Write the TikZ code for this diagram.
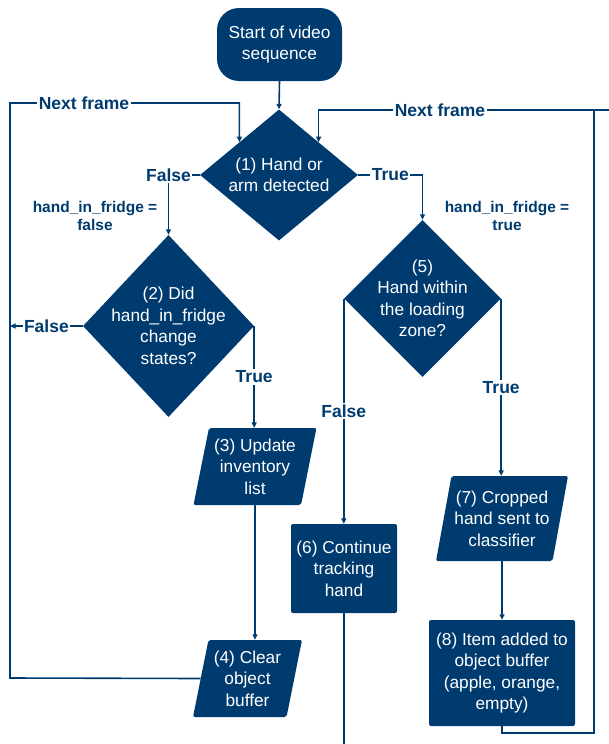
\documentclass[tikz,border=0pt]{standalone}
\usepackage{fontspec}
\setmainfont{Liberation Sans}
\usetikzlibrary{shapes.geometric,arrows.meta}
\definecolor{navy}{RGB}{0,59,112}
\newcommand{\boxfont}{\fontsize{17.3}{21.5}\selectfont}

\begin{document}
\begin{tikzpicture}[x=1pt, y=-1pt,
    >={Triangle[length=5.5pt,width=5pt]},
    flow/.style={navy, line width=1.6pt},
    termbox/.style={fill=navy, text=white, rounded corners=22pt, align=center, inner sep=1pt, font=\boxfont},
    dia/.style={diamond, fill=navy, inner sep=0pt},
    diatext/.style={text=white, align=center, inner sep=0pt, font=\boxfont},
    iobox/.style={trapezium, trapezium left angle=75, trapezium right angle=105, trapezium stretches body,
        fill=navy, text=white, rounded corners=2pt, align=center, inner sep=1pt, font=\boxfont},
    procbox/.style={rectangle, fill=navy, text=white, rounded corners=2pt, align=center, inner sep=0.5pt, font=\boxfont},
    lbl/.style={fill=white, text=navy, inner sep=1.5pt, font=\bfseries\fontsize{17.5}{20}\selectfont},
    cond/.style={text=navy, align=center, inner sep=0pt, font=\bfseries\fontsize{15.5}{18}\selectfont}]
    \useasboundingbox (0,0) rectangle (609,744);

    % start and first test
    \node[termbox, minimum width=125pt, minimum height=73pt] (start) at (279.5,44.5) {Start of video\\sequence};
    \node[dia, minimum width=158pt, minimum height=131pt] (d1) at (279,175) {};
    \node[diatext] (t1) at (d1) {(1) Hand or\\arm detected};

    % left branch: hand not detected
    \node[dia, minimum width=171pt, minimum height=182pt] (d2) at (168.5,326) {};
    \node[diatext] (t2) at (d2) {(2) Did\\hand\_in\_fridge\\change\\states?};
    \node[iobox, minimum width=123pt, minimum height=77pt] (n3) at (255,466.5) {(3) Update\\inventory\\list};
    \node[iobox, minimum width=109pt, minimum height=77pt] (n4) at (247.5,678.5) {(4) Clear\\object\\buffer};

    % right branch: hand detected
    \node[dia, minimum width=157pt, minimum height=157pt] (d5) at (422.5,298.5) {};
    \node[diatext] (t5) at (d5) {(5)\\Hand within\\the loading\\zone?};
    \node[procbox, minimum width=106pt, minimum height=89pt] (n6) at (344,568.5) {(6) Continue\\tracking\\hand};
    \node[iobox, minimum width=132pt, minimum height=85pt] (n7) at (502,518.5) {(7) Cropped\\hand sent to\\classifier};
    \node[procbox, minimum width=146pt, minimum height=106pt] (n8) at (502,673) {(8) Item added to\\object buffer\\(apple, orange,\\empty)};

    % notes
    \node[cond] (c1) at (95,216) {hand\_in\_fridge =\\false};
    \node[cond] (c2) at (507,216) {hand\_in\_fridge =\\true};

    % loop corners
    \coordinate (ltop) at (10,103);
    \coordinate (lbot) at (10,678);
    \coordinate (rtop) at (594,110);
    \coordinate (rbot) at (594,733);
    \coordinate (rout) at (609,110);
    \coordinate (bout) at (0,744);

    % connectors
    \draw[flow, ->] (start.south) -- (d1.north);
    \draw[flow, ->] (d1.west) -| node[lbl, pos=0.5] (f1) {False} (d2.north);
    \draw[flow, ->] (d1.east) -| node[lbl, pos=0.25] (tr1) {True} (d5.north);
    \draw[flow, ->] (d2.west) -- node[lbl] (f2) {False} (d2.west -| ltop);
    \draw[flow, ->] (d2.east) -- node[lbl] (tr2) {True} (d2.east |- n3.north);
    \draw[flow, ->] (n3.south) -- (n3.south |- n4.north);
    \draw[flow, ->] (n4.west) -- (lbot) -- (ltop) -| (d1.north west);
    \node[lbl] (nf1) at (84,103) {Next frame};
    \draw[flow, ->] (d5.west) -- node[lbl] (f5) {False} (d5.west |- n6.north);
    \draw[flow, ->] (d5.east) -- node[lbl] (tr5) {True} (d5.east |- n7.north);
    \draw[flow, ->] (n7.south) -- (n8.north);
    \draw[flow, ->] (n8.south) |- (rbot) -- (rtop) -| (d1.north east);
    \draw[flow] (rtop) -- (rout);
    \node[lbl] (nf2) at (440,110) {Next frame};
    \draw[flow] (n6.south) -- (n6.south |- bout);
\end{tikzpicture}
\end{document}
